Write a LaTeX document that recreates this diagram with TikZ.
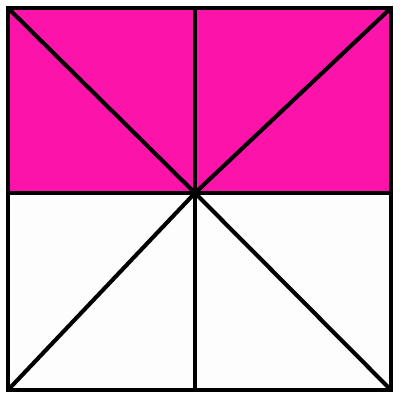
\documentclass[tikz,border=0pt]{standalone}
\usepackage{xcolor}
\usepackage{tikz}
\definecolor{pinkfill}{RGB}{252,20,170}
\definecolor{whitefill}{RGB}{253,253,253}

\begin{document}
\begin{tikzpicture}[edge/.style={line width=2.9pt,black}]
    \useasboundingbox (0,0) rectangle (10,10);
    % Corners and centre
    \coordinate (bl) at (0.2,0.25);
    \coordinate (br) at (9.775,0.25);
    \coordinate (tr) at (9.775,9.8);
    \coordinate (tl) at (0.2,9.8);
    \coordinate (c) at (4.875,5.175);
    \coordinate (ml) at (0.2,5.175);
    \coordinate (mr) at (9.775,5.175);
    \coordinate (mt) at (4.875,9.8);
    \coordinate (mb) at (4.875,0.25);
    % Fills
    \fill[pinkfill] (ml) rectangle (tr);
    \fill[whitefill] (bl) rectangle (mr);
    % Lines
    \draw[edge] (bl) rectangle (tr);
    \draw[edge] (ml) -- (mr);
    \draw[edge] (mt) -- (mb);
    \draw[edge] (tl) -- (c) -- (tr);
    \draw[edge] (bl) -- (c) -- (br);
  \end{tikzpicture}
\end{document}
